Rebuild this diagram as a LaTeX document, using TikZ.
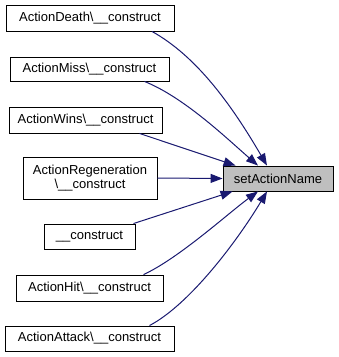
\documentclass[tikz,border=0pt]{standalone}
\usepackage{fontspec}
\setmainfont{Liberation Sans}
\usetikzlibrary{arrows.meta, calc}
\definecolor{edgeblue}{HTML}{191970}

\begin{document}
\begin{tikzpicture}[
  x=1pt, y=-1pt,
  font=\fontsize{13}{14.5}\selectfont,
  fn/.style={draw=black, fill=white, line width=0.9pt, inner sep=0pt,
             minimum height=25pt},
  cur/.style={fn, fill=black!25},
  call/.style={-{Triangle[length=12pt, width=9pt]}, edgeblue, line width=1pt},
]
  \useasboundingbox (0,0) rectangle (339,357);

  % --- callers ---
  \node[fn, minimum width=168pt, minimum height=26pt] (death) at (90,18)   {ActionDeath\textbackslash\_\_construct};
  \node[fn, minimum width=159pt, minimum height=24pt] (miss)  at (89.5,69) {ActionMiss\textbackslash\_\_construct};
  \node[fn, minimum width=153pt, minimum height=26pt] (wins)  at (85.5,120) {ActionWins\textbackslash\_\_construct};
  \node[fn, minimum width=134pt, minimum height=42pt, align=center] (regen) at (90,178)
    {ActionRegeneration\\\textbackslash\_\_construct};
  \node[fn, minimum width=91pt]  (ctor)   at (89.5,236.5) {\_\_construct};
  \node[fn, minimum width=147pt, minimum height=26pt] (hit) at (89.5,288) {ActionHit\textbackslash\_\_construct};
  \node[fn, minimum width=169pt] (attack) at (89.5,338.5) {ActionAttack\textbackslash\_\_construct};

  % --- called function ---
  \node[cur, minimum width=110pt] (set) at (278,178.5) {setActionName};

  % --- calls ---
  \draw[call] ($(death.south)+(62,0)$) .. controls +(45,25) and +(-35,-60) .. ($(set.north)+(-11,0)$);
  \draw[call] ($(miss.south)+(55,0)$) .. controls +(40,16) and +(-30,-26) .. ($(set.north)+(-20,0)$);
  \draw[call] ($(wins.south)+(54,0)$) -- ($(set.north west)+(13,0)$);
  \draw[call] (regen.east) -- (set.west);
  \draw[call] ($(ctor.north east)+(-2,0)$) -- ($(set.south west)+(10,0)$);
  \draw[call] ($(hit.north)+(54,0)$) .. controls +(35,-16) and +(-30,22) .. ($(set.south)+(-20,0)$);
  \draw[call] ($(attack.north)+(60,0)$) .. controls +(40,-21) and +(-30,50) .. ($(set.south)+(-11,0)$);
\end{tikzpicture}
\end{document}
